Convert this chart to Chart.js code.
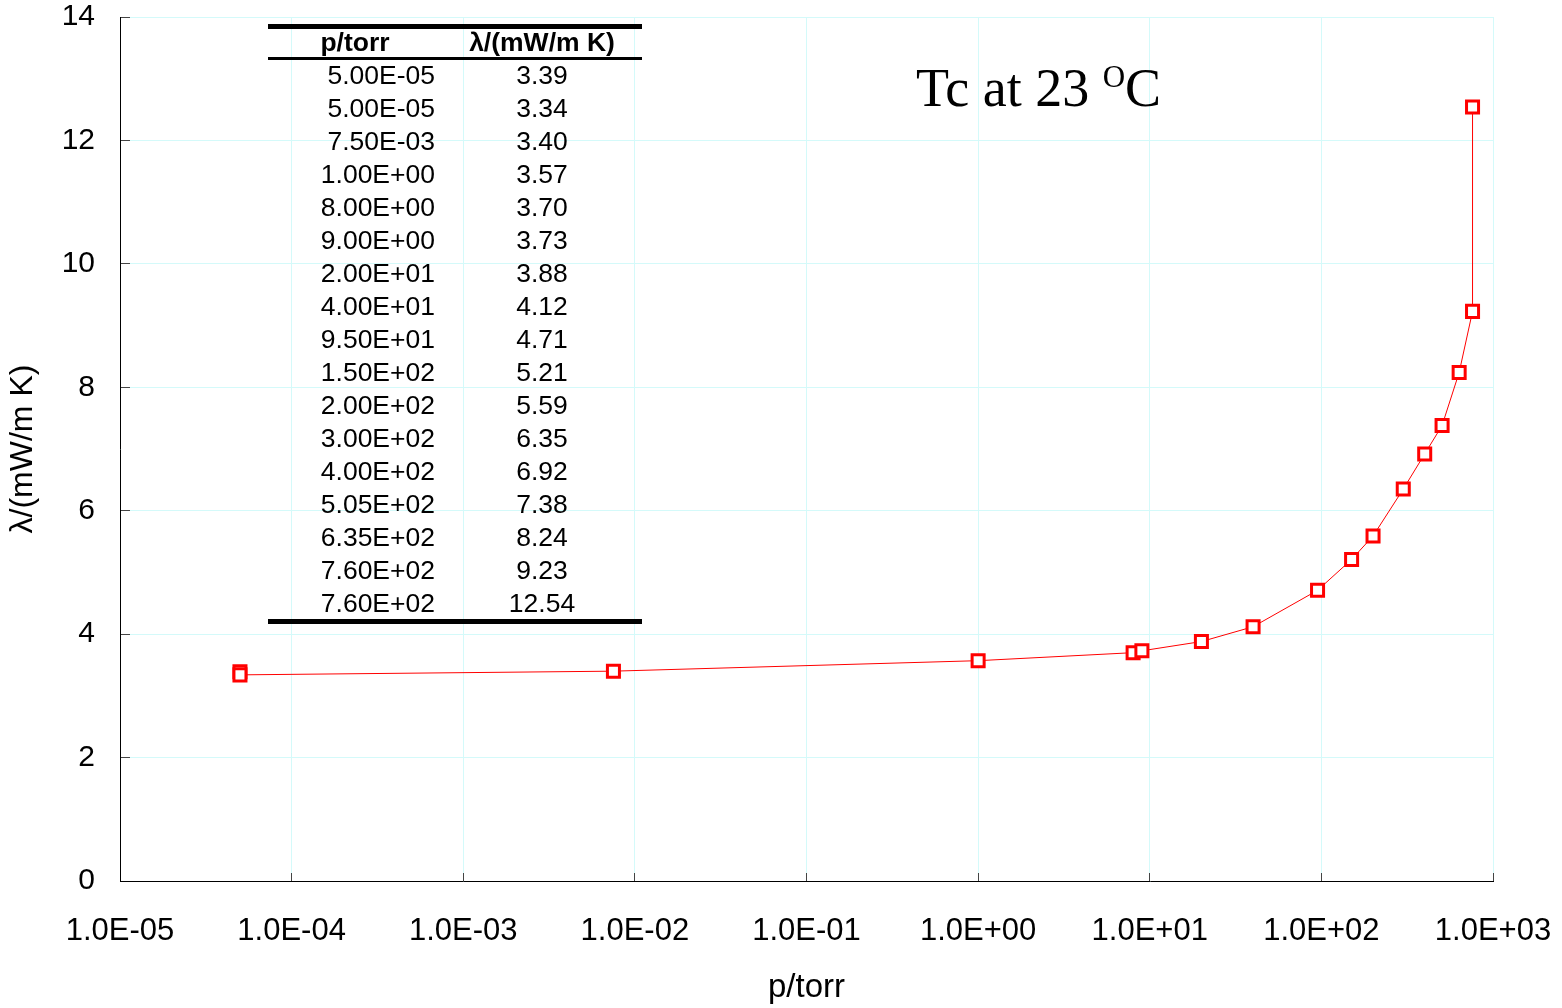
<!DOCTYPE html>
<html>
<head>
<meta charset="utf-8">
<script src="https://cdn.jsdelivr.net/npm/chart.js@4/dist/chart.umd.min.js"></script>
<style>
  html, body { margin: 0; padding: 0; background: #fff; }
  #wrap { width: 1562px; height: 1008px; }
</style>
</head>
<body>
<div id="wrap"><canvas id="tcChart" width="1562" height="1008"></canvas></div>
<script>
// measured points (pressure in torr, conductivity in mW/m K)
var pressure = [5.00e-5, 5.00e-5, 7.50e-3, 1.00, 8.00, 9.00, 20.0, 40.0, 95.0, 150, 200, 300, 400, 505, 635, 760, 760];
var lambda = [3.39, 3.34, 3.40, 3.57, 3.70, 3.73, 3.88, 4.12, 4.71, 5.21, 5.59, 6.35, 6.92, 7.38, 8.24, 9.23, 12.54];
var xTicks = [1e-5, 1e-4, 1e-3, 1e-2, 1e-1, 1e0, 1e1, 1e2, 1e3];
var yTicks = [0, 2, 4, 6, 8, 10, 12, 14];

function fmtE(v, digits) {
    var parts = v.toExponential(digits).split("e");
    var ex = parseInt(parts[1], 10);
    var sign = ex < 0 ? "-" : "+";
    var a = Math.abs(ex);
    return parts[0] + "E" + sign + (a < 10 ? "0" + a : a);
}

function noPad(scale) {
    scale.paddingTop = 0;
    scale.paddingBottom = 0;
    scale.paddingLeft = 0;
    scale.paddingRight = 0;
}

var points = pressure.map(function(p, i) { return {x: p, y: lambda[i]}; });

var gridCol = "#d4fafa";

// data table + title drawn on top of the plot
var overlay = {
    id: "overlay",
    afterDraw: function(chart) {
        var ctx = chart.ctx;
        ctx.save();
        ctx.fillStyle = "#000";
        ctx.fillRect(268, 24, 374, 5);
        ctx.fillRect(268, 57, 374, 3);
        ctx.fillRect(268, 619, 374, 5);

        ctx.textBaseline = "middle";
        ctx.font = "bold 26.5px 'Liberation Sans', Arial";
        ctx.textAlign = "center";
        ctx.fillText("p/torr", 355, 44);
        ctx.fillText("\u03bb/(mW/m K)", 542, 44);

        ctx.font = "26.5px 'Liberation Sans', Arial";
        for (var i = 0; i < pressure.length; i++) {
            var y = 77 + i * 33;
            ctx.textAlign = "right";
            ctx.fillText(fmtE(pressure[i], 2), 435, y);
            ctx.textAlign = "center";
            ctx.fillText(lambda[i].toFixed(2), 542, y);
        }

        // Tc at 23 oC
        ctx.textBaseline = "alphabetic";
        ctx.textAlign = "left";
        ctx.font = "54px 'Liberation Serif', 'Times New Roman'";
        var s1 = "Tc at 23 ";
        ctx.fillText(s1, 916, 106);
        var x = 916 + ctx.measureText(s1).width;
        ctx.font = "31px 'Liberation Serif', 'Times New Roman'";
        ctx.fillText("O", x, 87);
        x += ctx.measureText("O").width;
        ctx.font = "54px 'Liberation Serif', 'Times New Roman'";
        ctx.fillText("C", x, 106);
        ctx.restore();
    }
};

var ctx1 = document.getElementById("tcChart").getContext("2d");
var myChart = new Chart(ctx1, {
    type: "scatter",
    data: {
        datasets: [
            {
                label: "Tc",
                data: points,
                showLine: true,
                borderColor: "#ff0000",
                backgroundColor: "#ffffff",
                borderWidth: 1,
                pointStyle: "rect",
                pointRadius: 8.5,
                pointBorderWidth: 3,
                pointBorderColor: "#ff0000",
                pointBackgroundColor: "#ffffff",
                tension: 0
            }
        ]
    },
    options: {
        responsive: false,
        animation: false,
        layout: {
            padding: {top: 17, right: 69, left: 0, bottom: 0}
        },
        plugins: {
            legend: { display: false },
            tooltip: { enabled: false }
        },
        scales: {
            x: {
                type: "logarithmic",
                min: 1e-5,
                max: 1e3,
                afterBuildTicks: function(scale) {
                    scale.ticks = xTicks.map(function(v) { return {value: v}; });
                },
                afterFit: function(scale) { scale.height = 127; noPad(scale); },
                ticks: {
                    autoSkip: false,
                    maxRotation: 0,
                    padding: 40,
                    color: "#000",
                    font: { family: "'Liberation Sans', Arial", size: 31 },
                    callback: function(value) { return fmtE(value, 1); }
                },
                grid: {
                    color: gridCol,
                    tickColor: "#444",
                    tickLength: -8,
                    lineWidth: 1
                },
                border: { color: "#000", width: 1 },
                title: {
                    display: true,
                    text: "p/torr",
                    color: "#000",
                    font: { family: "'Liberation Sans', Arial", size: 33 },
                    padding: 0
                }
            },
            y: {
                min: 0,
                max: 14,
                afterBuildTicks: function(scale) {
                    scale.ticks = yTicks.map(function(v) { return {value: v}; });
                },
                afterFit: function(scale) { scale.width = 120; noPad(scale); },
                ticks: {
                    padding: 35,
                    color: "#000",
                    font: { family: "'Liberation Sans', Arial", size: 30 }
                },
                grid: {
                    color: gridCol,
                    tickColor: "#444",
                    tickLength: -10,
                    lineWidth: 1
                },
                border: { color: "#000", width: 1 },
                title: {
                    display: true,
                    text: "\u03bb/(mW/m K)",
                    color: "#000",
                    font: { family: "'Liberation Sans', Arial", size: 32 },
                    padding: { top: 4, bottom: 0 }
                }
            }
        }
    },
    plugins: [overlay]
});
</script>
</body>
</html>
